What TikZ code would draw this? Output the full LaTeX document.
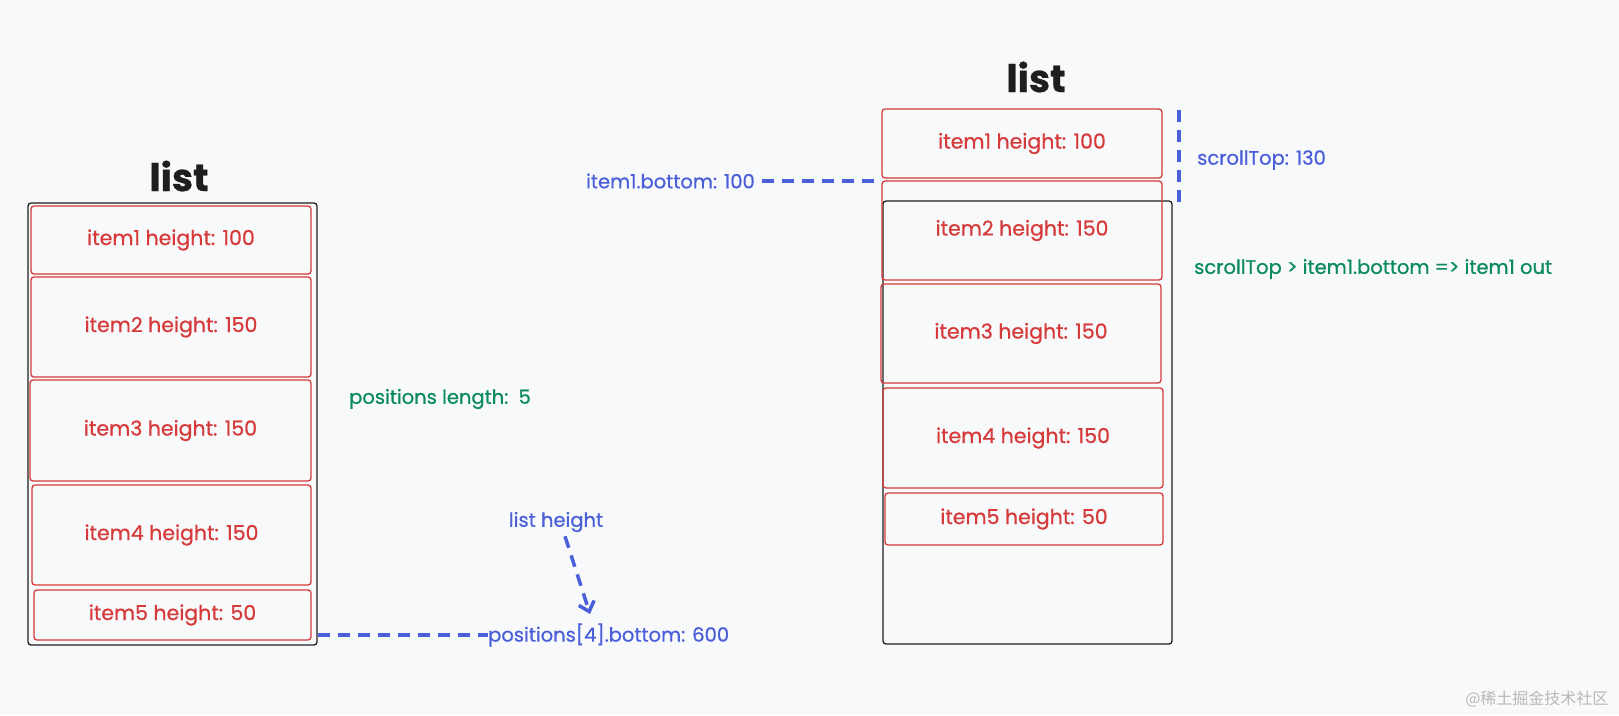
\documentclass[tikz,border=0pt]{standalone}
\usepackage{fontspec}
\setmainfont{Poppins}[FakeBold=0.7]
\newfontfamily\cjk{Noto Sans CJK SC}
\usetikzlibrary{arrows.meta}
\definecolor{bgcol}{HTML}{F8F9FB}
\definecolor{itemred}{HTML}{D63A3A}
\definecolor{noteblue}{HTML}{4A5FD8}
\definecolor{notegreen}{HTML}{0C8A5F}
\definecolor{boxblack}{HTML}{1E1E1E}
\begin{document}
\begin{tikzpicture}[x=1pt,y=-1pt,
  item node/.style={draw=itemred,line width=1.3pt,rounded corners=3pt,minimum width=280pt,
    inner sep=0pt,text=itemred,font=\fontsize{20.5}{24}\selectfont},
  list node/.style={draw=boxblack,line width=1.3pt,rounded corners=3pt,inner sep=0pt},
  title node/.style={text=boxblack,font=\fontsize{38}{42}\selectfont\bfseries},
  blue note/.style={text=noteblue,font=\fontsize{19.5}{23}\selectfont,inner sep=0pt},
  green note/.style={text=notegreen,font=\fontsize{19.5}{23}\selectfont,inner sep=0pt},
  dash line/.style={draw=noteblue,line width=3.5pt,dash pattern=on 12pt off 8pt}]

  \fill[bgcol] (0,0) rectangle (1619,715);
  \useasboundingbox (0,0) rectangle (1619,715);

  % left list
  \node[title node] (t1) at (179,176) {list};
  \node[list node,minimum width=289pt,minimum height=442pt] (L) at (172.5,424) {};
  \node[item node,minimum height=68pt] (a1) at (171,240) {item1 height: 100};
  \node[item node,minimum height=100pt] (a2) at (171,327) {item2 height: 150};
  \node[item node,minimum width=281pt,minimum height=101pt] (a3) at (170.5,430.5) {item3 height: 150};
  \node[item node,minimum width=279pt,minimum height=100pt] (a4) at (171.5,535) {item4 height: 150};
  \node[item node,minimum width=277pt,minimum height=50pt] (a5) at (172.5,615) {item5 height: 50};

  \node[green note] (plen) at (440,399) {positions length:\, 5};
  \node[blue note] (lh) at (556,522) {list height};
  \node[blue note,anchor=west] (pos) at (488,635) {positions[4].bottom: 600};
  \coordinate (lhend) at (590,614);

  % right list
  \node[title node] (t2) at (1036,77) {list};
  \node[list node,minimum width=289pt,minimum height=443pt] (R) at (1027.5,422.5) {};
  \node[item node,minimum height=69pt] (b1) at (1022,143.5) {item1 height: 100};
  \node[item node,minimum height=99pt] (b2) at (1022,230.5) {item2 height: 150};
  \node[item node,minimum height=99pt] (b3) at (1021,333.5) {item3 height: 150};
  \node[item node,minimum height=100pt] (b4) at (1023,438) {item4 height: 150};
  \node[item node,minimum width=278pt,minimum height=52pt] (b5) at (1024,519) {item5 height: 50};

  \node[blue note,anchor=east] (ib) at (755,181) {item1.bottom: 100};
  \node[blue note,anchor=west] (st) at (1197,160) {scrollTop: 130};
  \node[green note,anchor=west] (out) at (1194,269) {scrollTop > item1.bottom => item1 out};
  \coordinate (s1) at (1179,110);
  \coordinate (s2) at (1179,205);

  \node[text=black!28,font=\cjk\fontsize{16}{18}\selectfont,anchor=east] (wm) at (1612,699) {@稀土掘金技术社区};

  \path[dash line]
   (L.east |- pos.west) edge (pos.west)
   (ib.east) ++(7,0) edge (b1.west |- ib.east)
   (s1) edge (s2);
  \draw[dash line,-{Straight Barb[length=9pt,width=16pt,line width=3.5pt]}] (lh.south) ++(9,4) -- (lhend);
\end{tikzpicture}
\end{document}
